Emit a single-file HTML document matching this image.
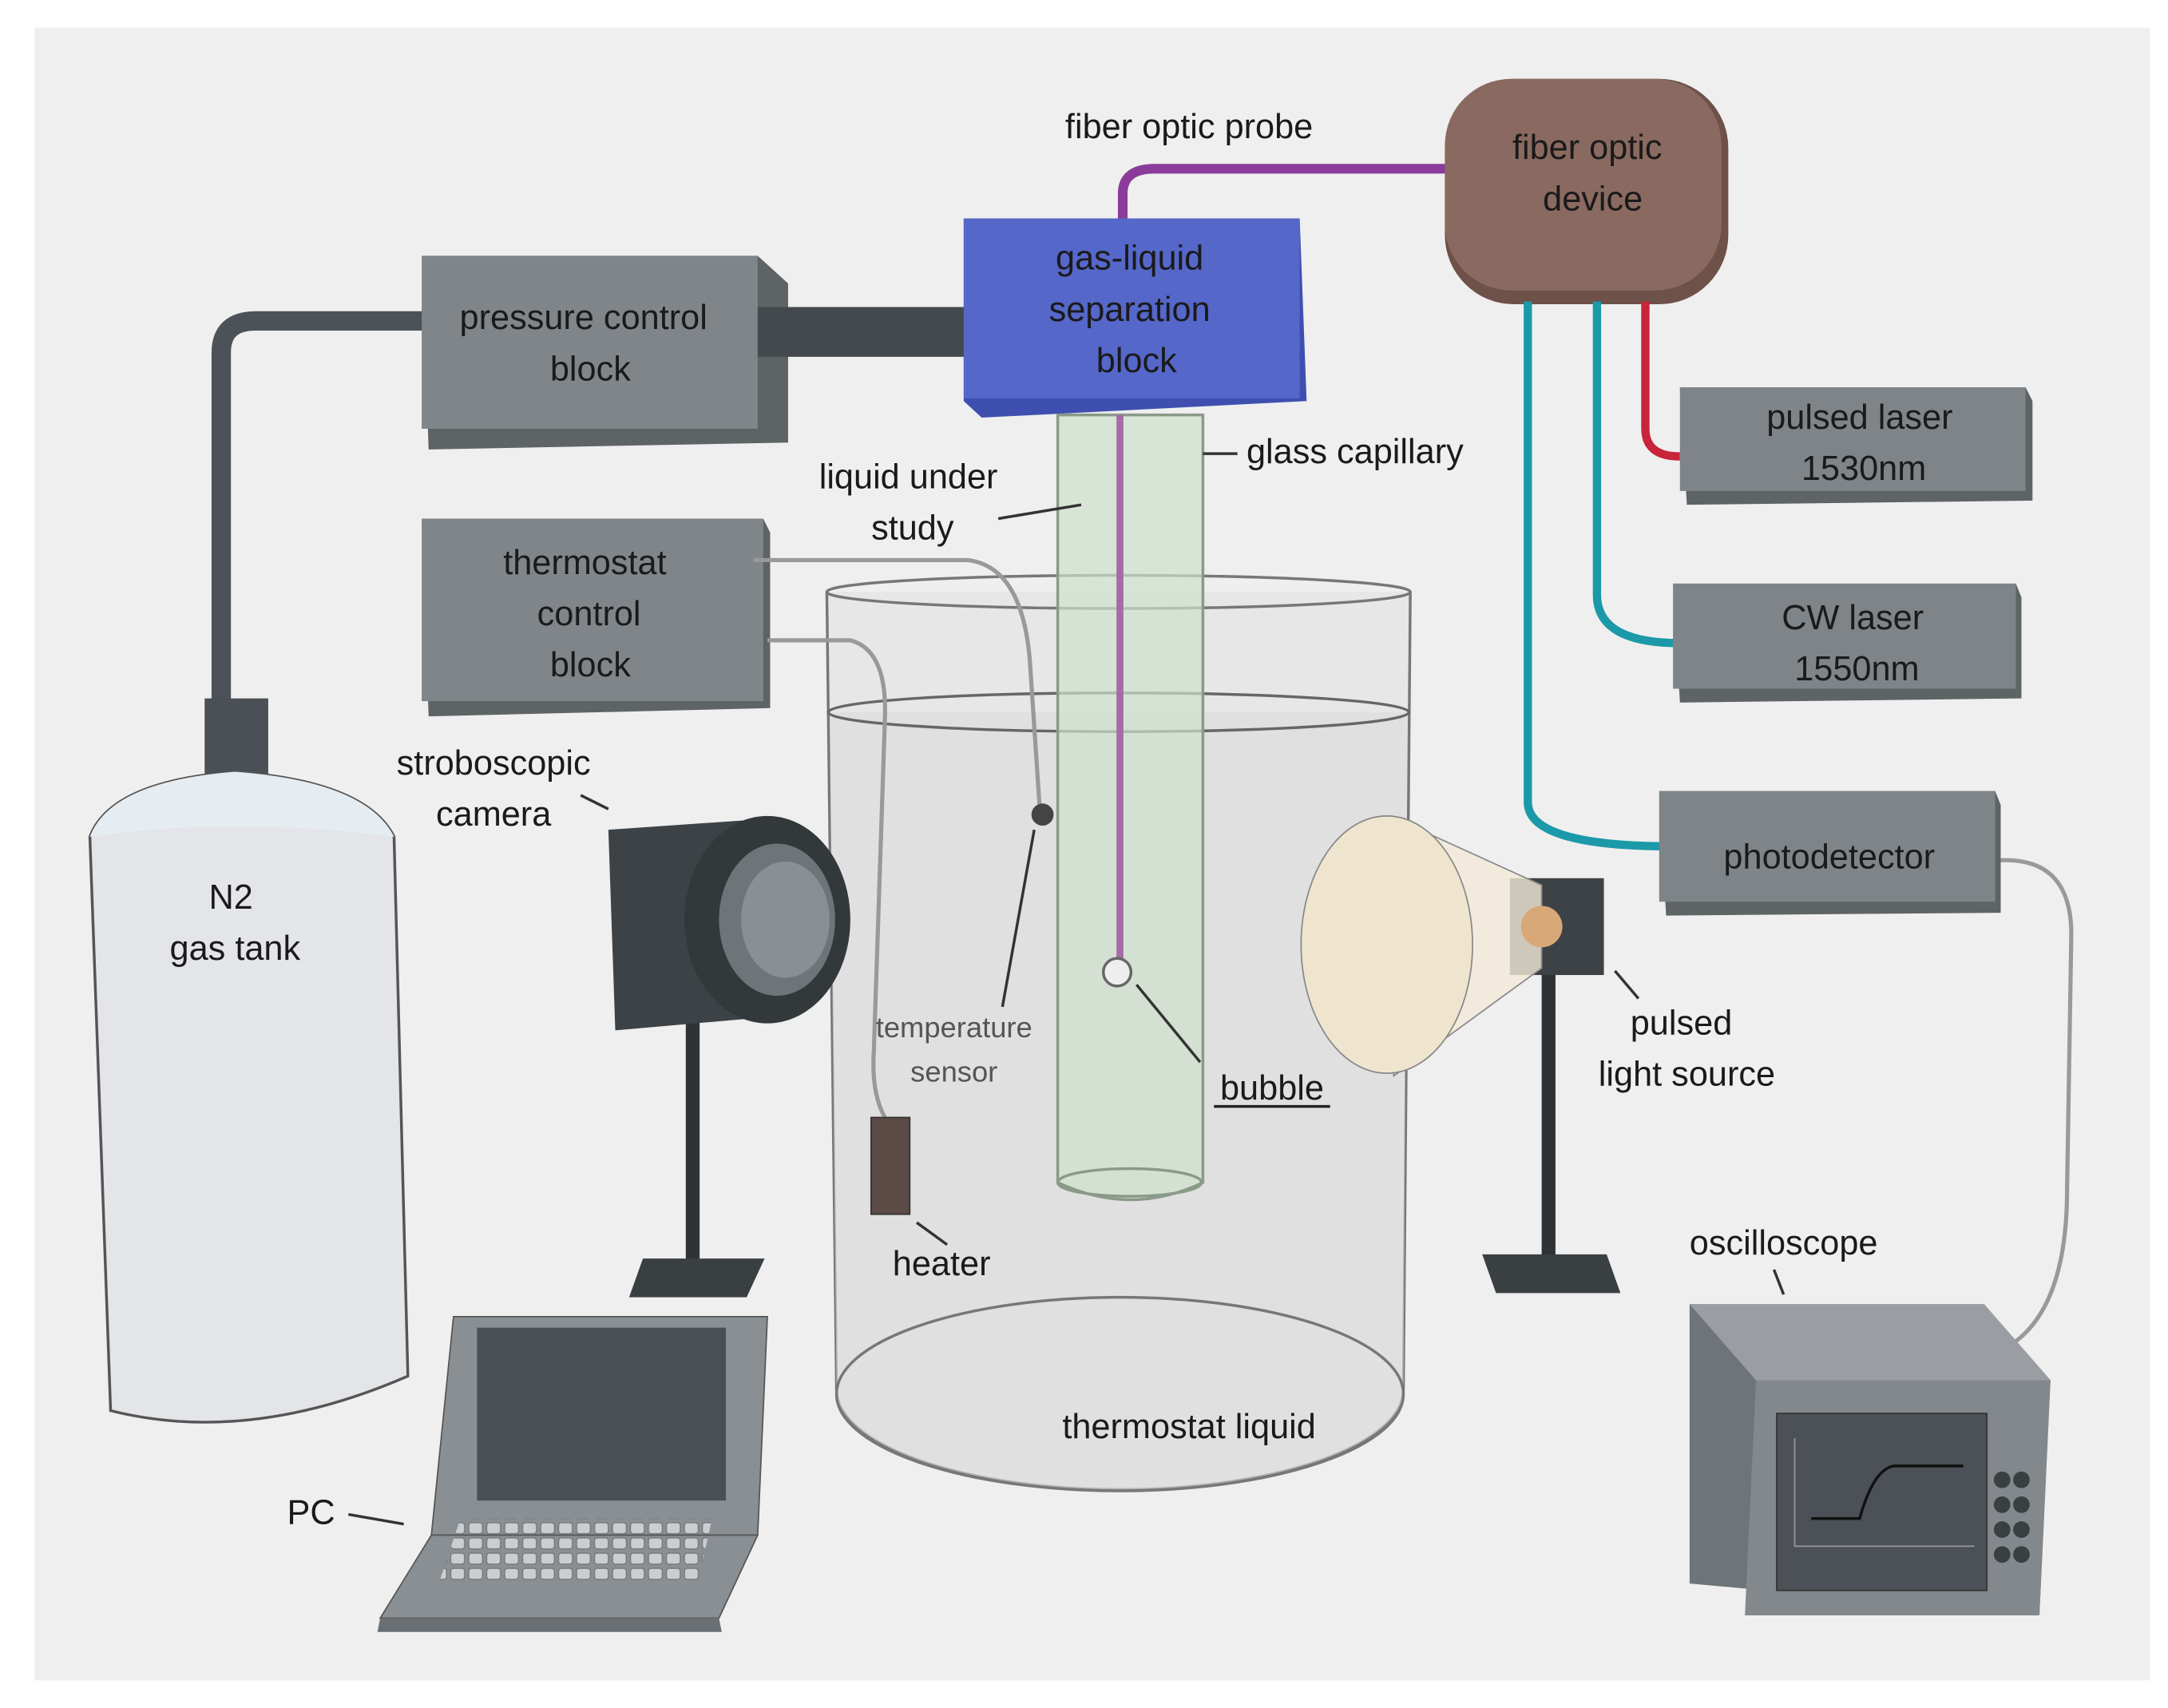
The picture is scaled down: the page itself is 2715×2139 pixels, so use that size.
<!DOCTYPE html>
<html><head><meta charset="utf-8"><style>html,body{margin:0;padding:0;background:#fff}svg{display:block}text{font-family:"Liberation Sans",sans-serif;fill:#1a1a1a}</style></head><body>
<svg width="2715" height="2139" viewBox="0 0 1568 1235" preserveAspectRatio="none" xmlns="http://www.w3.org/2000/svg">
<defs><pattern id="keys" x="0" y="0" width="13" height="11" patternUnits="userSpaceOnUse"><rect x="1" y="1" width="10" height="8" rx="2" fill="#c9ced3" stroke="#777" stroke-width="0.8"/></pattern></defs>
<rect x="0" y="0" width="1568" height="1235" fill="#fff"/>
<rect x="25" y="20" width="1530" height="1195" fill="#efefef"/>
<path d="M160 510 V255 Q160 232 185 232 H310" fill="none" stroke="#4c5257" stroke-width="14"/>
<rect x="148" y="505" width="46" height="55" fill="#4a5055"/>
<path d="M65 605 Q80 565 170 558 Q265 565 285 605 L295 995 Q180 1045 80 1020 Z" fill="#e3e5e8" stroke="#555" stroke-width="2"/>
<path d="M65 605 Q80 565 170 558 Q265 565 285 605 Q170 590 65 605Z" fill="#e6edf2"/>
<text x="167" y="657" font-size="25" text-anchor="middle">N2</text>
<text x="170" y="694" font-size="25" text-anchor="middle">gas tank</text>
<polygon points="305,185 548,185 570,205 570,320 310,325" fill="#5e6366"/>
<rect x="305" y="185" width="243" height="125" fill="#80858a"/>
<rect x="548" y="222" width="152" height="36" fill="#44494d"/>
<text x="422" y="238" font-size="25" text-anchor="middle">pressure control</text>
<text x="427" y="275" font-size="25" text-anchor="middle">block</text>
<path d="M812 160 V140 Q812 122 835 122 H1050" fill="none" stroke="#8b3c9a" stroke-width="7"/>
<text x="860" y="100" font-size="25" text-anchor="middle">fiber optic probe</text>
<polygon points="697,158 940,158 945,290 710,302 697,290" fill="#3f4fb0"/>
<rect x="697" y="158" width="243" height="130" fill="#5567c9"/>
<text x="817" y="195" font-size="25" text-anchor="middle">gas-liquid</text>
<text x="817" y="232" font-size="25" text-anchor="middle">separation</text>
<text x="822" y="269" font-size="25" text-anchor="middle">block</text>
<rect x="1045" y="57" width="205" height="163" rx="50" fill="#6e5149"/>
<rect x="1045" y="57" width="200" height="153" rx="48" fill="#8a6a60"/>
<text x="1148" y="115" font-size="25" text-anchor="middle">fiber optic</text>
<text x="1152" y="152" font-size="25" text-anchor="middle">device</text>
<path d="M1190 218 V310 Q1190 330 1215 330" fill="none" stroke="#c8243a" stroke-width="6"/>
<path d="M1155 218 V430 Q1155 465 1215 465" fill="none" stroke="#1c99a8" stroke-width="6"/>
<path d="M1105 218 V580 Q1105 612 1210 612" fill="none" stroke="#1c99a8" stroke-width="6"/>
<polygon points="1215,280 1465,280 1470,290 1470,362 1220,365" fill="#5e6366"/>
<rect x="1215" y="280" width="250" height="75" fill="#7f8488"/>
<text x="1345" y="310" font-size="25" text-anchor="middle">pulsed laser</text>
<text x="1348" y="347" font-size="25" text-anchor="middle">1530nm</text>
<polygon points="1210,422 1458,422 1462,432 1462,505 1215,508" fill="#5e6366"/>
<rect x="1210" y="422" width="248" height="76" fill="#7f8488"/>
<text x="1340" y="455" font-size="25" text-anchor="middle">CW laser</text>
<text x="1343" y="492" font-size="25" text-anchor="middle">1550nm</text>
<polygon points="1200,572 1443,572 1447,582 1447,660 1205,662" fill="#5e6366"/>
<rect x="1200" y="572" width="243" height="80" fill="#7f8488"/>
<text x="1323" y="628" font-size="25" text-anchor="middle">photodetector</text>
<path d="M1447 622 Q1500 620 1498 680 L1495 860 Q1495 950 1450 975" fill="none" stroke="#999" stroke-width="3"/>
<polygon points="305,375 552,375 557,385 557,512 310,518" fill="#5e6366"/>
<rect x="305" y="375" width="247" height="132" fill="#80858a"/>
<text x="423" y="415" font-size="25" text-anchor="middle">thermostat</text>
<text x="426" y="452" font-size="25" text-anchor="middle">control</text>
<text x="427" y="489" font-size="25" text-anchor="middle">block</text>
<path d="M598 428 L605 1005 A205 72 0 0 0 1015 1005 L1020 428" fill="#e4e4e4" fill-opacity="0.7" stroke="#777" stroke-width="2"/>
<path d="M600 515 L605 1005 A205 72 0 0 0 1015 1005 L1018 515 Z" fill="#dcdcdc" fill-opacity="0.6"/>
<ellipse cx="810" cy="1008" rx="205" ry="70" fill="none" stroke="#777" stroke-width="2"/>
<ellipse cx="809" cy="428" rx="211" ry="12" fill="none" stroke="#777" stroke-width="2"/>
<ellipse cx="809" cy="515" rx="210" ry="14" fill="none" stroke="#666" stroke-width="2"/>
<text x="860" y="1040" font-size="25" text-anchor="middle">thermostat liquid</text>
<path d="M765 300 H870 V855 Q818 880 765 855 Z" fill="#cfe0cc" fill-opacity="0.7" stroke="#8a9a88" stroke-width="2"/>
<ellipse cx="817" cy="855" rx="52" ry="10" fill="none" stroke="#8a9a88" stroke-width="2"/>
<line x1="810" y1="300" x2="810" y2="695" stroke="#a56aa8" stroke-width="5"/>
<circle cx="808" cy="703" r="10" fill="#eee" stroke="#666" stroke-width="2"/>
<line x1="870" y1="328" x2="895" y2="328" stroke="#333" stroke-width="2"/>
<text x="980" y="335" font-size="25" text-anchor="middle">glass capillary</text>
<text x="657" y="353" font-size="25" text-anchor="middle">liquid under</text>
<text x="660" y="390" font-size="25" text-anchor="middle">study</text>
<line x1="722" y1="375" x2="782" y2="365" stroke="#333" stroke-width="2"/>
<line x1="822" y1="712" x2="868" y2="768" stroke="#333" stroke-width="2"/>
<text x="920" y="795" font-size="25" text-anchor="middle">bubble</text>
<line x1="878" y1="800" x2="962" y2="800" stroke="#222" stroke-width="2"/>
<path d="M545 405 H700 Q740 410 745 480 L752 585" fill="none" stroke="#999" stroke-width="3"/>
<circle cx="754" cy="589" r="8" fill="#444"/>
<path d="M555 463 H615 Q642 470 640 520 L632 760 Q630 790 640 808" fill="none" stroke="#999" stroke-width="3"/>
<rect x="630" y="808" width="28" height="70" fill="#5c4a46" stroke="#333"/>
<line x1="748" y1="600" x2="725" y2="728" stroke="#333" stroke-width="2"/>
<text x="690" y="750" font-size="21" text-anchor="middle" style="fill:#555">temperature</text>
<text x="690" y="782" font-size="21" text-anchor="middle" style="fill:#555">sensor</text>
<line x1="663" y1="884" x2="685" y2="900" stroke="#333" stroke-width="2"/>
<text x="681" y="922" font-size="25" text-anchor="middle">heater</text>
<rect x="496" y="735" width="10" height="180" fill="#2f3336"/>
<polygon points="465,910 553,910 540,938 455,938" fill="#3a3f42"/>
<polygon points="440,600 555,592 560,735 445,745" fill="#3d4246"/>
<ellipse cx="555" cy="665" rx="60" ry="75" fill="#33383b"/>
<ellipse cx="562" cy="665" rx="42" ry="55" fill="#6f7479"/>
<ellipse cx="568" cy="665" rx="32" ry="42" fill="#8a8f94"/>
<text x="357" y="560" font-size="25" text-anchor="middle">stroboscopic</text>
<text x="357" y="597" font-size="25" text-anchor="middle">camera</text>
<line x1="420" y1="575" x2="440" y2="585" stroke="#333" stroke-width="2"/>
<rect x="1115" y="700" width="10" height="210" fill="#2f3336"/>
<polygon points="1072,907 1162,907 1172,935 1082,935" fill="#3a3f42"/>
<rect x="1092" y="635" width="68" height="70" fill="#3d4246"/>
<path d="M1005 590 L1115 640 L1115 700 L1008 778 Z" fill="#f2ead8" fill-opacity="0.8" stroke="#888"/>
<ellipse cx="1003" cy="683" rx="62" ry="93" fill="#efe5cf" stroke="#888"/>
<circle cx="1115" cy="670" r="15" fill="#d9a878"/>
<line x1="1168" y1="702" x2="1185" y2="722" stroke="#333" stroke-width="2"/>
<text x="1216" y="748" font-size="25" text-anchor="middle">pulsed</text>
<text x="1220" y="785" font-size="25" text-anchor="middle">light source</text>
<polygon points="328,952 555,952 548,1110 312,1110" fill="#8a8f93" stroke="#555"/>
<rect x="345" y="960" width="180" height="125" fill="#4a5055"/>
<polygon points="312,1110 548,1110 520,1170 275,1170" fill="#8a8f93" stroke="#555"/>
<polygon points="275,1170 520,1170 522,1180 273,1180" fill="#6a6f73"/>
<polygon points="333,1098 515,1098 505,1143 318,1143" fill="url(#keys)"/>
<line x1="252" y1="1095" x2="292" y2="1102" stroke="#333" stroke-width="2"/>
<text x="225" y="1102" font-size="25" text-anchor="middle">PC</text>
<polygon points="1222,943 1435,943 1483,998 1475,1168 1222,1145" fill="#6f7478"/>
<polygon points="1222,943 1435,943 1483,998 1270,998" fill="#9a9ea2"/>
<polygon points="1270,998 1483,998 1475,1168 1262,1168" fill="#83888c"/>
<rect x="1285" y="1022" width="152" height="128" fill="#4b5156" stroke="#333"/>
<path d="M1298 1040 V1118 H1428" fill="none" stroke="#999"/>
<path d="M1310 1098 H1345 Q1355 1062 1370 1060 H1420" fill="none" stroke="#111" stroke-width="2"/>
<g fill="#3a3f42"><circle cx="1448" cy="1070" r="6"/><circle cx="1462" cy="1070" r="6"/><circle cx="1448" cy="1088" r="6"/><circle cx="1462" cy="1088" r="6"/><circle cx="1448" cy="1106" r="6"/><circle cx="1462" cy="1106" r="6"/><circle cx="1448" cy="1124" r="6"/><circle cx="1462" cy="1124" r="6"/></g>
<line x1="1283" y1="918" x2="1290" y2="936" stroke="#333" stroke-width="2"/>
<text x="1290" y="907" font-size="25" text-anchor="middle">oscilloscope</text>
</svg>
</body></html>
